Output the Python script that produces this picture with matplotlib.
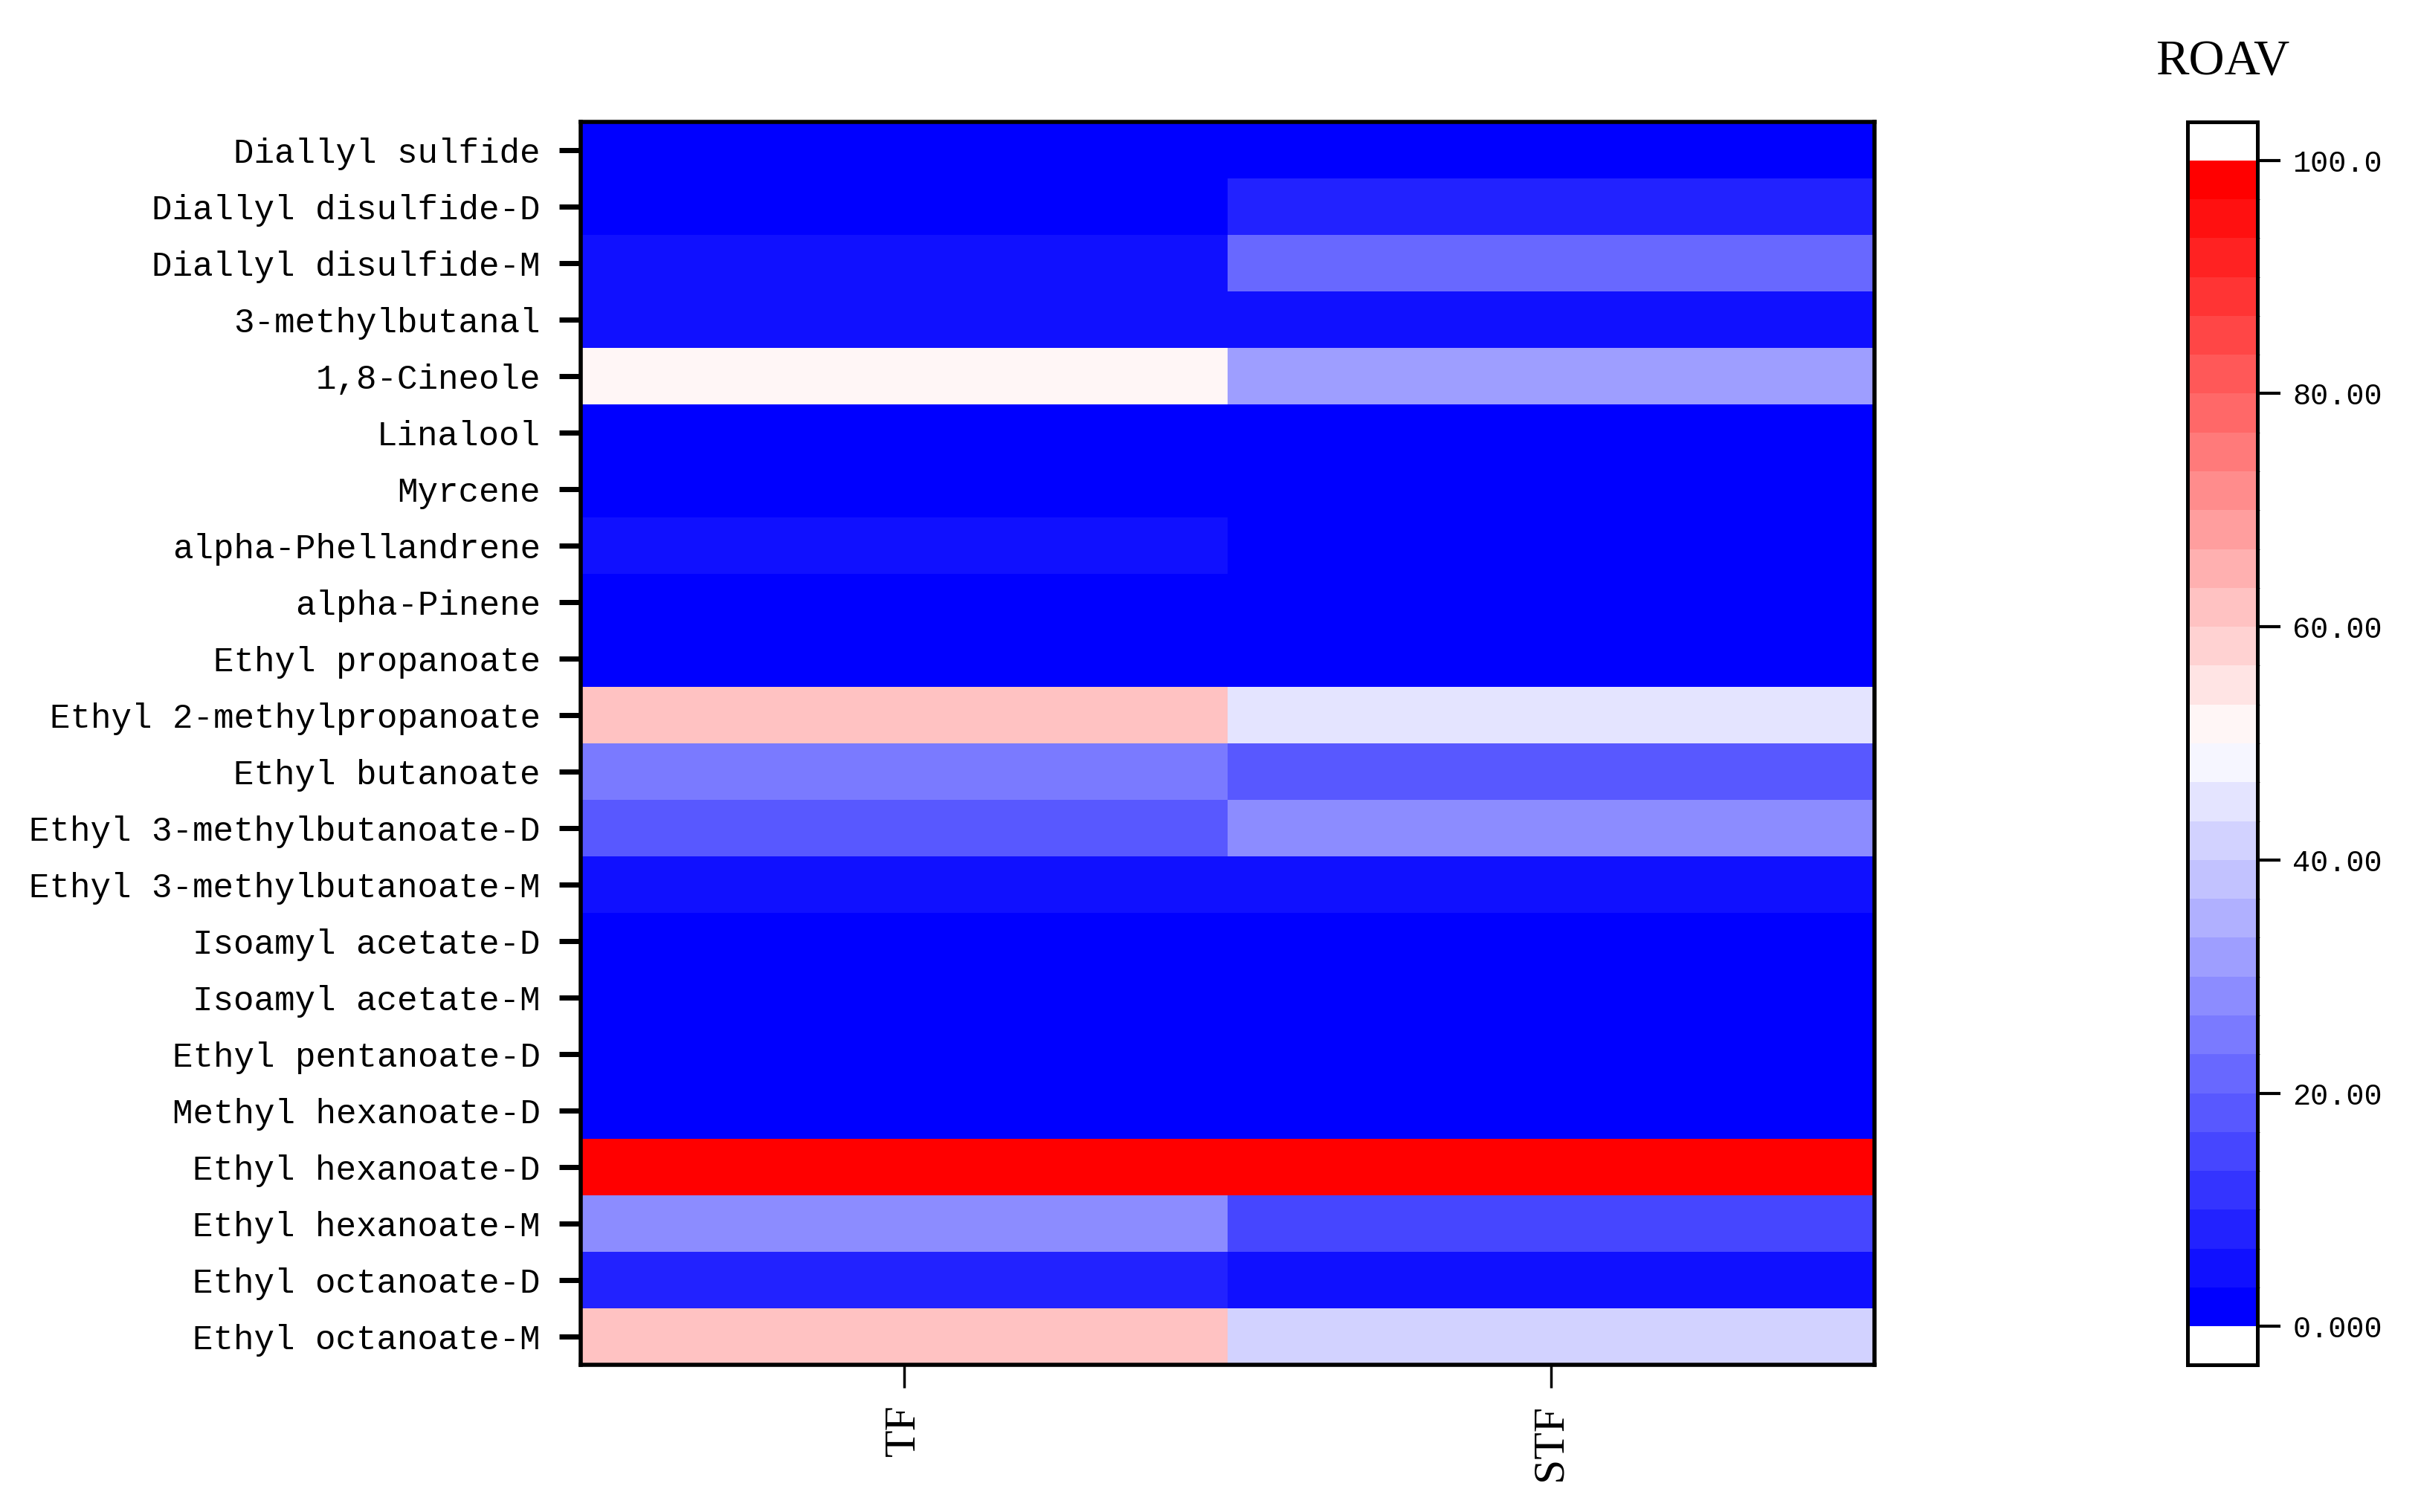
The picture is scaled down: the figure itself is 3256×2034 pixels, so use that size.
import numpy as np
import matplotlib
matplotlib.use("Agg")
import matplotlib.pyplot as plt
from matplotlib.colors import BoundaryNorm, ListedColormap

# compounds, top to bottom
compounds = [
    "Diallyl sulfide", "Diallyl disulfide-D", "Diallyl disulfide-M",
    "3-methylbutanal", "1,8-Cineole", "Linalool", "Myrcene",
    "alpha-Phellandrene", "alpha-Pinene", "Ethyl propanoate",
    "Ethyl 2-methylpropanoate", "Ethyl butanoate",
    "Ethyl 3-methylbutanoate-D", "Ethyl 3-methylbutanoate-M",
    "Isoamyl acetate-D", "Isoamyl acetate-M", "Ethyl pentanoate-D",
    "Methyl hexanoate-D", "Ethyl hexanoate-D", "Ethyl hexanoate-M",
    "Ethyl octanoate-D", "Ethyl octanoate-M",
]
samples = ["TF", "STF"]

# ROAV values
roav_tf = [1.5, 1.2, 5.0, 5.0, 52.0, 1.0, 1.0, 4.5, 1.0, 1.0, 62.0,
           25.0, 18.0, 5.0, 1.0, 1.0, 1.0, 1.0, 99.0, 28.0, 8.0, 62.0]
roav_stf = [1.5, 8.0, 22.0, 5.0, 32.0, 1.0, 1.0, 1.0, 1.0, 1.0, 45.0,
            18.0, 28.0, 5.0, 1.0, 1.0, 1.0, 1.0, 99.0, 15.0, 5.0, 42.0]

cbar_ticks = [0, 20, 40, 60, 80, 100]
cbar_labels = ["0.000", "20.00", "40.00", "60.00", "80.00", "100.0"]

data = np.column_stack([roav_tf, roav_stf])

# 30 discrete levels, blue-white-red, white above/below the range
levels = np.linspace(0, 100, 31)
cmap = ListedColormap(plt.get_cmap("bwr")(np.linspace(0, 1, len(levels) - 1)))
cmap.set_over("white")
cmap.set_under("white")
norm = BoundaryNorm(levels, cmap.N)

fig = plt.figure(figsize=(32.56, 20.34), dpi=100)
W, H = 3256, 2034
ax = fig.add_axes([781 / W, 1 - 1836 / H, (2521 - 781) / W, (1836 - 164) / H])
cax = fig.add_axes([2942 / W, 1 - 1836 / H, (3036 - 2942) / W, (1836 - 164) / H])

mesh = ax.pcolormesh(np.arange(len(samples) + 1), np.arange(len(compounds) + 1),
                     data, cmap=cmap, norm=norm)
ax.set_xlim(0, len(samples))
ax.set_ylim(len(compounds), 0)

ax.set_yticks(np.arange(len(compounds)) + 0.5)
ax.set_yticklabels(compounds, family="Liberation Mono", fontsize=33)
ax.set_xticks(np.arange(len(samples)) + 0.5)
ax.set_xticklabels(samples, family="Liberation Serif", fontsize=43, rotation=90)
ax.tick_params(axis="y", length=21, width=5, pad=18)
ax.tick_params(axis="x", length=22, width=2.5, pad=16)
for sp in ax.spines.values():
    sp.set_linewidth(4)

cb = fig.colorbar(mesh, cax=cax, extend="both", extendrect=True,
                  extendfrac=0.033, ticks=cbar_ticks)
cb.ax.set_yticklabels(cbar_labels, family="Liberation Mono", fontsize=29)
cb.ax.tick_params(length=22, width=3, pad=12)
cb.outline.set_linewidth(3.6)
cb.ax.set_title("ROAV", family="Liberation Serif", fontsize=48, pad=46)

fig.savefig("out.png", dpi=100)
